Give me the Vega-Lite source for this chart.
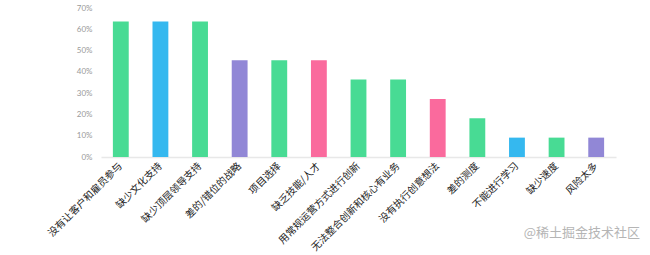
{
  "$schema": "https://vega.github.io/schema/vega-lite/v6.json",
  "autosize": {"type": "none"},
  "padding": {"left": 101, "top": 8, "right": 34, "bottom": 98},
  "width": 515,
  "height": 149,
  "background": "white",
  "config": {"view": {"stroke": null}},
  "title": {
    "text": "@稀土掘金技术社区",
    "orient": "bottom",
    "anchor": "end",
    "font": "Noto Sans CJK SC",
    "fontSize": 13,
    "fontWeight": "normal",
    "color": "#b5b5b5",
    "offset": 0,
    "dx": 24,
    "dy": -25
  },
  "data": {
    "values": [
      {"item": "没有让客户和雇员参与", "value": 0.636, "group": "g"},
      {"item": "缺少文化支持", "value": 0.636, "group": "b"},
      {"item": "缺少顶层领导支持", "value": 0.636, "group": "g"},
      {"item": "差的/错位的战略", "value": 0.455, "group": "p"},
      {"item": "项目选择", "value": 0.455, "group": "g"},
      {"item": "缺乏技能/人才", "value": 0.455, "group": "r"},
      {"item": "用常规运营方式进行创新", "value": 0.364, "group": "g"},
      {"item": "无法整合创新和核心有业务", "value": 0.364, "group": "g"},
      {"item": "没有执行创意想法", "value": 0.273, "group": "r"},
      {"item": "差的测度", "value": 0.182, "group": "g"},
      {"item": "不能进行学习", "value": 0.091, "group": "b"},
      {"item": "缺少速度", "value": 0.091, "group": "g"},
      {"item": "风险太多", "value": 0.091, "group": "p"}
    ]
  },
  "mark": {"type": "bar"},
  "encoding": {
    "x": {
      "field": "item",
      "type": "nominal",
      "sort": null,
      "scale": {"paddingInner": 0.6, "paddingOuter": 0.3},
      "axis": {
        "title": null,
        "labelAngle": -45,
        "labelAlign": "right",
        "labelBaseline": "middle",
        "labelFont": "Noto Sans CJK SC",
        "labelFontSize": 10,
        "labelColor": "#222222",
        "labelPadding": 7,
        "labelLimit": 200,
        "ticks": false,
        "domainColor": "#e8e8e8",
        "domainWidth": 1.5
      }
    },
    "y": {
      "field": "value",
      "type": "quantitative",
      "scale": {"domain": [0, 0.7], "nice": false},
      "axis": {
        "title": null,
        "values": [0, 0.1, 0.2, 0.3, 0.4, 0.5, 0.6, 0.7],
        "format": ".0%",
        "grid": false,
        "domain": false,
        "ticks": false,
        "labelFont": "Lato",
        "labelFontSize": 8,
        "labelColor": "#999999",
        "labelPadding": 9
      }
    },
    "color": {
      "field": "group",
      "type": "nominal",
      "scale": {
        "domain": ["g", "b", "p", "r"],
        "range": ["#48DB94", "#35B8EF", "#9187D6", "#FA6A9D"]
      },
      "legend": null
    }
  }
}
